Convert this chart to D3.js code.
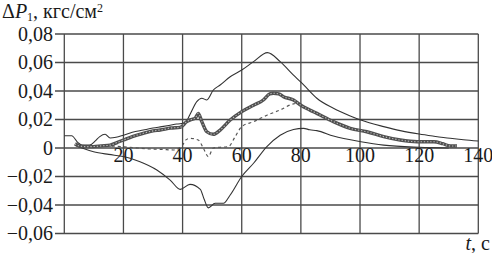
<!DOCTYPE html>
<html><head><meta charset="utf-8">
<script src="https://cdn.jsdelivr.net/npm/d3@7"></script>
<style>body{margin:0;background:#fff}svg{display:block}</style>
</head><body>
<script>
const xTicks = [20, 40, 60, 80, 100, 120, 140];
const yTicks = [0.08, 0.06, 0.04, 0.02, 0, -0.02, -0.04, -0.06];

const upperT = [0,2.5,4.5,6,8.5,10.5,12,13.8,15.5,17.5,20,23,26.7,30,33,35.8,38,40.8,42.5,44.8,46.5,48.2,50.4,52.7,56.1,60,64,68.7,73,77.5,80,82,85.4,91,96.7,100.3,108,114,120,125,130.5,135,140];
const upperV = [0.0086,0.0086,0.004,0.002,0.002,0.005,0.008,0.0096,0.007,0.0075,0.009,0.011,0.0126,0.014,0.015,0.016,0.0168,0.0175,0.0235,0.0325,0.0349,0.0337,0.0407,0.0442,0.050,0.0547,0.0606,0.0669,0.0606,0.0512,0.0462,0.042,0.0349,0.0279,0.0225,0.0196,0.015,0.012,0.0098,0.0083,0.0068,0.0058,0.0049];

const lowerT = [3.6,6,9.9,15,20,25.6,31.3,35.8,39.2,42.5,46,47.3,48.7,51,53.8,56.1,60,64,68.5,73,77.5,80.9,83,85.4,91,100.3,108,120,130];
const lowerV = [0.002,0,-0.0026,-0.0045,-0.006,-0.0096,-0.0154,-0.0225,-0.029,-0.0255,-0.029,-0.036,-0.042,-0.0388,-0.0388,-0.033,-0.020,-0.0107,0.001,0.009,0.013,0.0138,0.0128,0.0122,0.0084,0.0044,0.002,0.0005,0];

const markT = [3.6,5,7,9.8,12.5,15.5,18,20,23,26.7,30,32.4,36,39.2,41.4,43,44.2,45.3,46.5,48.2,50.4,52.7,56.1,60,64,67.3,69.5,70.7,72.5,74.1,77.5,80,83,85.4,91,96.7,102.3,108,113.6,119.3,125,128,130.5,132.8];
const markV = [0.003,0.0015,0.001,0.001,0.0015,0.002,0.004,0.0056,0.008,0.0103,0.012,0.0126,0.014,0.0145,0.0185,0.02,0.0208,0.0243,0.0185,0.0114,0.0096,0.0126,0.0196,0.0255,0.030,0.0337,0.038,0.0384,0.038,0.036,0.0337,0.030,0.0267,0.0243,0.0185,0.0138,0.0114,0.008,0.0056,0.0044,0.0044,0.003,0.0014,0.0014];

const dashT = [12,15.5,22,29,33,37,40,41,42.5,45.3,47,48.7,50.4,52.7,55.5,57.8,60,64,68.5,73,77.5,79.2,81.5,84];
const dashV = [0.0015,0.0014,0.0005,-0.0007,-0.001,-0.0014,0.002,0.0055,0.0068,0.0056,0,-0.006,0,0.0005,0.001,0.008,0.015,0.0185,0.023,0.0267,0.031,0.0314,0.028,0.025];

const W = 492, H = 253;
const L = 64.3, R = 478.3, T = 34, B = 233.5;
const x = d3.scaleLinear().domain([0, 140]).range([L, R]);
const y = d3.scaleLinear().domain([-0.06, 0.08]).range([B, T]);
const fmt = v => v === 0 ? "0" : (v < 0 ? "\u2212" : "") + Math.abs(v).toFixed(2).replace(".", ",");

const svg = d3.select("body").append("svg").attr("width", W).attr("height", H)
  .style("font-family", "'Liberation Serif', 'Times New Roman', serif");

const gridC = "#4a4a4a";
svg.append("g").selectAll("line").data(yTicks).join("line")
  .attr("x1", 55).attr("x2", R).attr("y1", d => y(d)).attr("y2", d => y(d))
  .attr("stroke", gridC).attr("stroke-width", 1.3);
svg.append("g").selectAll("line").data([0].concat(xTicks)).join("line")
  .attr("x1", d => x(d)).attr("x2", d => x(d)).attr("y1", T).attr("y2", B)
  .attr("stroke", gridC).attr("stroke-width", 1.3);

svg.append("g").selectAll("text").data(yTicks).join("text")
  .attr("x", 53).attr("y", d => y(d) + 6.5).attr("text-anchor", "end")
  .attr("font-size", 20).attr("fill", "#1a1a1a").text(fmt);
svg.append("g").selectAll("text").data(xTicks).join("text")
  .attr("x", d => x(d)).attr("y", y(0) + 13.5).attr("text-anchor", "middle")
  .attr("font-size", 20).attr("fill", "#1a1a1a").text(d => d);

const line = (ts, vs) => d3.line().x(i => x(ts[i])).y(i => y(vs[i])).curve(d3.curveMonotoneX)(d3.range(ts.length));
const lineC = "#333";

svg.append("path").attr("d", line(upperT, upperV)).attr("fill", "none").attr("stroke", lineC).attr("stroke-width", 1.1);
svg.append("path").attr("d", line(lowerT, lowerV)).attr("fill", "none").attr("stroke", lineC).attr("stroke-width", 1.1);
svg.append("path").attr("d", line(dashT, dashV)).attr("fill", "none").attr("stroke", "#555").attr("stroke-width", 1.2).attr("stroke-dasharray", "3,3");
svg.append("path").attr("d", line(markT, markV)).attr("fill", "none").attr("stroke", "#505050").attr("stroke-width", 3.4);
svg.append("path").attr("d", line(markT, markV)).attr("fill", "none").attr("stroke", "#bdbdbd").attr("stroke-width", 1.1).attr("stroke-dasharray", "1.3,1.9");

const title = svg.append("text").attr("x", 2).attr("y", 18).attr("font-size", 20).attr("fill", "#1a1a1a");
title.append("tspan").text("\u0394");
title.append("tspan").attr("font-style", "italic").text("P");
title.append("tspan").attr("font-size", 12).attr("dy", 3).text("1");
title.append("tspan").attr("dy", -3).text(", кгс/см");
title.append("tspan").attr("font-size", 12).attr("dy", -6).text("2");

const xt = svg.append("text").attr("x", 490).attr("y", 250).attr("text-anchor", "end").attr("font-size", 20).attr("fill", "#1a1a1a");
xt.append("tspan").attr("font-style", "italic").text("t");
xt.append("tspan").text(", с");
</script>
</body></html>
